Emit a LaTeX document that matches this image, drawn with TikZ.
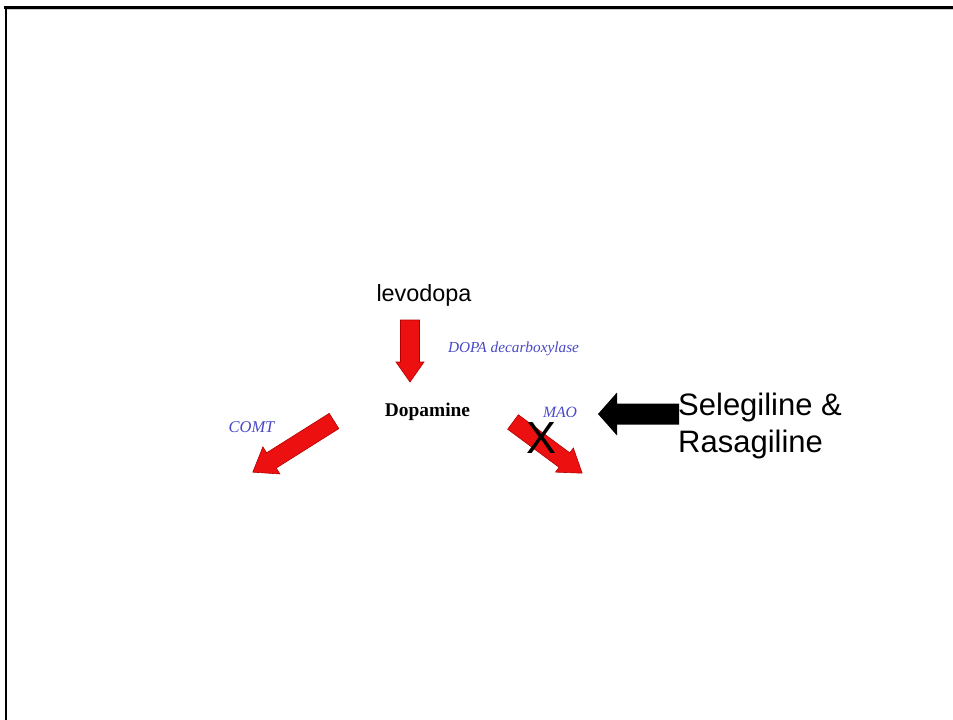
\documentclass[tikz,border=0pt]{standalone}
\usepackage{fontspec}
\setmainfont{Liberation Serif}
\newfontfamily\arialf{Liberation Sans}
\definecolor{arrred}{RGB}{236,16,16}
\definecolor{arredge}{RGB}{180,0,0}
\definecolor{enzblue}{RGB}{72,72,200}
\tikzset{
  redarrow/.style={fill=arrred, draw=arredge, line width=0.6pt, line join=miter},
  enzyme/.style={inner sep=0pt, anchor=base, text=enzblue, font=\itshape\fontsize{15.3}{18}\selectfont},
  sanslabel/.style={inner sep=0pt, font=\arialf\fontsize{23.4}{28}\selectfont},
  framebar/.style={line width=3pt, draw=black}
}
% block arrow along local +x: #1 length, #2 shaft width, #3 head width, #4 head length
\newcommand{\blockarrow}[4]{%
  (0,-#2/2) -- ({#1-#4},-#2/2) -- ({#1-#4},-#3/2) -- (#1,0) -- ({#1-#4},#3/2) -- ({#1-#4},#2/2) -- (0,#2/2) -- cycle}
\begin{document}
\begin{tikzpicture}[x=1pt,y=-1pt]
\useasboundingbox (0,0) rectangle (953,720);
\fill[white] (0,0) rectangle (953,720);
% frame
\draw[gray!40, line width=1pt] (7,9.8) -- (953,9.8);
\draw[framebar] (3.5,7.5) -- (953,7.5);
\draw[framebar, line width=2.6pt] (6,6) -- (6,720);
% texts
\node[sanslabel, anchor=base] (levo) at (424,301.7) {levodopa};
\node[enzyme] (ddc) at (513.5,352) {DOPA decarboxylase};
\node[inner sep=0pt, anchor=base, font=\bfseries\fontsize{19.4}{23}\selectfont] (dopa) at (427.5,416.7) {Dopamine};
\node[enzyme, font=\itshape\fontsize{16.5}{19}\selectfont] (comt) at (251.5,432) {COMT};
\node[enzyme, font=\itshape\fontsize{15.7}{19}\selectfont] (mao) at (560,417) {MAO};
% red block arrows
\draw[redarrow, shift={(410,320)}, rotate=-90] \blockarrow{62}{19}{28}{20};
\draw[redarrow, shift={(334,421)}, rotate=-147.8] \blockarrow{96}{18}{32}{22};
\draw[redarrow, shift={(513,422)}, rotate=-36.5] \blockarrow{86}{18}{30}{22};
% cross
\node[inner sep=0pt, anchor=base, font=\arialf\fontsize{45}{50}\selectfont] (cross) at (542,453) {X};
% black arrow
\fill[black, shift={(679,414)}, rotate=180] \blockarrow{81}{21}{43}{19};
\node[sanslabel, anchor=base west, font=\arialf\fontsize{31}{37}\selectfont] (sel) at (678,415) {Selegiline \&};
\node[sanslabel, anchor=base west, font=\arialf\fontsize{31}{37}\selectfont] (ras) at (678,452) {Rasagiline};
\end{tikzpicture}
\end{document}
